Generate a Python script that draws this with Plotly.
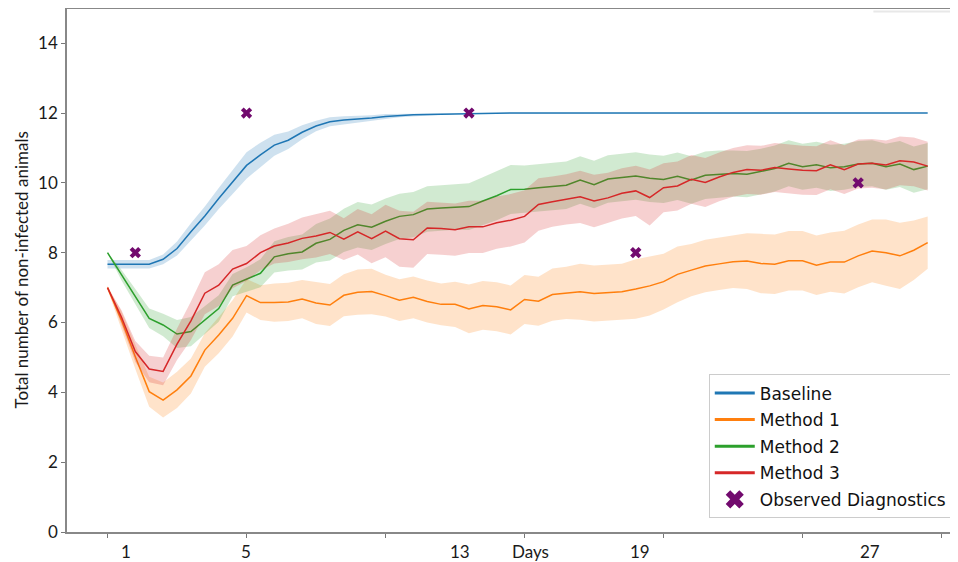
import plotly.graph_objects as go

# ---------------- data ----------------
days = [i * 0.5 for i in range(60)]

baseline = [7.67, 7.67, 7.67, 7.67, 7.81, 8.12, 8.6, 9.05, 9.55, 10.03,
            10.5, 10.8, 11.08, 11.22, 11.45, 11.63, 11.75, 11.8, 11.82, 11.86,
            11.9, 11.93, 11.95, 11.96, 11.97, 11.98, 11.99, 12.0, 12.0, 12.0,
            12.0, 12.0, 12.0, 12.0, 12.0, 12.0, 12.0, 12.0, 12.0, 12.0,
            12.0, 12.0, 12.0, 12.0, 12.0, 12.0, 12.0, 12.0, 12.0, 12.0,
            12.0, 12.0, 12.0, 12.0, 12.0, 12.0, 12.0, 12.0, 12.0, 12.0]
baseline_sd = [0.12, 0.12, 0.12, 0.12, 0.14, 0.2, 0.24, 0.27, 0.3, 0.35,
               0.38, 0.35, 0.3, 0.25, 0.2, 0.15, 0.13, 0.11, 0.1, 0.08,
               0.07, 0.05, 0.04, 0.03, 0.02, 0.01, 0.01, 0.0, 0.0, 0.0,
               0.0, 0.0, 0.0, 0.0, 0.0, 0.0, 0.0, 0.0, 0.0, 0.0,
               0.0, 0.0, 0.0, 0.0, 0.0, 0.0, 0.0, 0.0, 0.0, 0.0,
               0.0, 0.0, 0.0, 0.0, 0.0, 0.0, 0.0, 0.0, 0.0, 0.0]

method1 = [7.0, 6.07, 5.02, 4.02, 3.78, 4.07, 4.47, 5.21, 5.64, 6.12,
           6.77, 6.57, 6.57, 6.59, 6.67, 6.56, 6.5, 6.78, 6.87, 6.89,
           6.77, 6.64, 6.72, 6.6, 6.52, 6.52, 6.39, 6.49, 6.45, 6.36,
           6.66, 6.61, 6.8, 6.85, 6.88, 6.83, 6.86, 6.88, 6.96, 7.05,
           7.17, 7.38, 7.5, 7.62, 7.68, 7.74, 7.76, 7.69, 7.67, 7.77,
           7.77, 7.64, 7.73, 7.73, 7.91, 8.05, 8.0, 7.91, 8.07, 8.29]
method1_sd = [0.05, 0.25, 0.35, 0.43, 0.5, 0.52, 0.5, 0.48, 0.52, 0.52,
              0.48, 0.5, 0.55, 0.55, 0.55, 0.6, 0.6, 0.6, 0.65, 0.65,
              0.6, 0.6, 0.6, 0.6, 0.6, 0.65, 0.7, 0.7, 0.7, 0.7,
              0.7, 0.7, 0.75, 0.75, 0.8, 0.8, 0.8, 0.8, 0.85, 0.85,
              0.8, 0.8, 0.75, 0.75, 0.75, 0.75, 0.8, 0.85, 0.85, 0.85,
              0.85, 0.85, 0.85, 0.9, 0.9, 0.9, 0.95, 0.95, 0.85, 0.75]

method2 = [8.0, 7.36, 6.74, 6.12, 5.93, 5.67, 5.74, 6.07, 6.4, 7.07,
           7.23, 7.41, 7.88, 7.97, 8.02, 8.27, 8.38, 8.64, 8.8, 8.73,
           8.9, 9.04, 9.09, 9.25, 9.28, 9.31, 9.32, 9.48, 9.63, 9.81,
           9.82, 9.86, 9.89, 9.93, 10.08, 9.95, 10.11, 10.15, 10.2, 10.13,
           10.1, 10.19, 10.08, 10.22, 10.25, 10.27, 10.25, 10.32, 10.41, 10.56,
           10.46, 10.52, 10.43, 10.46, 10.54, 10.56, 10.46, 10.54, 10.38, 10.48]
method2_sd = [0.0, 0.15, 0.22, 0.28, 0.32, 0.4, 0.42, 0.4, 0.38, 0.32,
              0.35, 0.4, 0.45, 0.48, 0.5, 0.55, 0.6, 0.62, 0.65, 0.65,
              0.65, 0.65, 0.65, 0.65, 0.65, 0.65, 0.67, 0.68, 0.7, 0.7,
              0.68, 0.68, 0.68, 0.68, 0.68, 0.68, 0.68, 0.68, 0.68, 0.68,
              0.68, 0.68, 0.68, 0.68, 0.68, 0.66, 0.66, 0.66, 0.66, 0.66,
              0.66, 0.66, 0.66, 0.66, 0.66, 0.66, 0.66, 0.66, 0.66, 0.66]

method3 = [7.0, 6.16, 5.17, 4.67, 4.6, 5.38, 6.05, 6.84, 7.07, 7.53,
           7.69, 8.0, 8.19, 8.28, 8.41, 8.48, 8.58, 8.39, 8.6, 8.4,
           8.62, 8.4, 8.37, 8.71, 8.69, 8.66, 8.74, 8.74, 8.86, 8.93,
           9.04, 9.38, 9.46, 9.53, 9.6, 9.48, 9.57, 9.7, 9.77, 9.58,
           9.86, 9.91, 10.1, 10.01, 10.17, 10.3, 10.38, 10.36, 10.44, 10.4,
           10.36, 10.35, 10.52, 10.38, 10.54, 10.56, 10.51, 10.63, 10.6, 10.48]
method3_sd = [0.0, 0.2, 0.3, 0.38, 0.4, 0.45, 0.55, 0.6, 0.6, 0.55,
              0.5, 0.5, 0.5, 0.55, 0.6, 0.62, 0.62, 0.6, 0.65, 0.7,
              0.75, 0.8, 0.8, 0.75, 0.75, 0.75, 0.75, 0.75, 0.75, 0.75,
              0.75, 0.75, 0.72, 0.72, 0.75, 0.75, 0.72, 0.72, 0.72, 0.8,
              0.7, 0.7, 0.7, 0.7, 0.7, 0.7, 0.7, 0.7, 0.7, 0.7,
              0.7, 0.7, 0.7, 0.7, 0.7, 0.7, 0.7, 0.7, 0.7, 0.7]

obs_days = [1, 5, 13, 19, 27]
obs_values = [8, 12, 12, 8, 10]

series_names = ["Baseline", "Method 1", "Method 2", "Method 3"]
obs_name = "Observed Diagnostics"
y_title = "Total number of non-infected animals"

y_ticks = [0, 2, 4, 6, 8, 10, 12, 14]
x_tick_marks = [0, 5, 10, 15, 20, 25, 30]
x_label_text = ["1", "5", "13", "Days", "19", "27"]

# ---------------- styling / layout ----------------
x_label_pos = [0.66, 4.98, 12.68, 15.2, 19.15, 27.43]   # label placement (layout only)
colors = ["#1f77b4", "#ff7f0e", "#2ca02c", "#d62728"]
fills = ["rgba(31,119,180,0.22)", "rgba(255,127,14,0.22)",
         "rgba(44,160,44,0.22)", "rgba(214,39,40,0.22)"]
purple = "#720a6e"
txt_col = "#1a1a1a"

fig = go.Figure()

all_means = [baseline, method1, method2, method3]
all_sd = [baseline_sd, method1_sd, method2_sd, method3_sd]

for name, mean, sd, col, fc in zip(series_names, all_means, all_sd, colors, fills):
    upper = [m + s for m, s in zip(mean, sd)]
    lower = [m - s for m, s in zip(mean, sd)]
    fig.add_trace(go.Scatter(x=days, y=mean, mode="lines", line=dict(color=col, width=1.5),
                             showlegend=False, hoverinfo="skip"))
    fig.add_trace(go.Scatter(x=days + days[::-1], y=upper + lower[::-1], fill="toself",
                             fillcolor=fc, line=dict(width=0), mode="lines",
                             showlegend=False, hoverinfo="skip"))

fig.add_trace(go.Scatter(x=obs_days, y=obs_values, mode="markers",
                         marker=dict(symbol="x", size=10, color=purple, line=dict(width=0)),
                         showlegend=False))

# legend entries (each in its own group so the row gap can be set)
for name, col in zip(series_names, colors):
    fig.add_trace(go.Scatter(x=[None], y=[None], mode="lines", name=name, legendgroup=name,
                             line=dict(color=col, width=3)))
fig.add_trace(go.Scatter(x=[None], y=[None], mode="markers", name=obs_name, legendgroup=obs_name,
                         marker=dict(symbol="x", size=22, color=purple, line=dict(width=0))))

for txt, pos in zip(x_label_text, x_label_pos):
    fig.add_annotation(x=pos, y=0, xref="x", yref="paper", yanchor="top", yshift=-7, text=txt,
                       showarrow=False, font=dict(family="Lato", size=17, color=txt_col))

# y-axis title, centred on the plot area
fig.add_annotation(x=0, y=0.5, xref="paper", yref="paper", xanchor="center", yanchor="middle",
                   xshift=-46, textangle=-90, text=y_title, showarrow=False,
                   font=dict(family="Lato", size=17, color=txt_col))

fig.add_shape(type="line", xref="paper", yref="paper", x0=0.905, x1=1.0, y0=0.995, y1=0.995,
              line=dict(color="#e8e8e8", width=2))

# page body has an 8px default margin: figure is shifted by (8, 8)
fig.update_layout(
    width=950, height=554,
    margin=dict(l=59, r=0, t=1, b=30, autoexpand=False),
    paper_bgcolor="white", plot_bgcolor="white",
    showlegend=True,
    legend=dict(x=0.993, y=0.026, xanchor="right", yanchor="bottom",
                bgcolor="white", bordercolor="#cccccc", borderwidth=1,
                font=dict(family="DejaVu Sans", size=17, color="#111111"),
                itemwidth=40, tracegroupgap=1.5, traceorder="grouped"),
    xaxis=dict(range=[-1.457, 30.59], tickvals=x_tick_marks, showticklabels=False,
               ticks="outside", ticklen=4, tickcolor="#777777", automargin=False,
               showline=True, linecolor="#888888", linewidth=1.5, mirror=True,
               showgrid=False, zeroline=False),
    yaxis=dict(range=[0, 14.98], tickvals=y_ticks, ticks="outside", ticklen=4,
               tickcolor="#777777", showline=True, linecolor="#888888", linewidth=1.5,
               showgrid=False, zeroline=False, automargin=False,
               tickfont=dict(family="Lato", size=17, color=txt_col)),
)

fig.write_html("out.html")
